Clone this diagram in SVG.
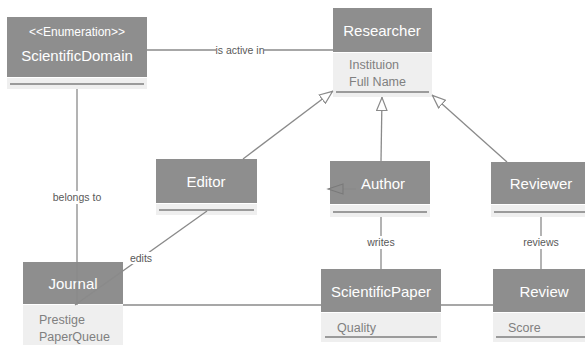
<svg xmlns="http://www.w3.org/2000/svg" width="585" height="345" viewBox="0 0 585 345">
<defs>
<style>
.hd{fill:#8e8e8e;}
.cp{fill:#efefef;}
.sep{stroke:#7f7f7f;stroke-width:1.5;}
.ht{font-family:"Liberation Sans",Arial,sans-serif;font-size:15px;fill:#ffffff;text-anchor:middle;}
.st{font-family:"Liberation Sans",Arial,sans-serif;font-size:12px;fill:#ffffff;text-anchor:middle;}
.at{font-family:"Liberation Sans",Arial,sans-serif;font-size:12.5px;fill:#808080;}
.lb{font-family:"Liberation Sans",Arial,sans-serif;font-size:10.5px;fill:#595959;text-anchor:middle;}
.ln{stroke:#8a8a8a;stroke-width:1.3;fill:none;}
.lbg{fill:#ffffff;}
</style>
<marker id="gen" viewBox="0 0 14 12" refX="14" refY="6" markerWidth="14" markerHeight="12" markerUnits="userSpaceOnUse" orient="auto">
<path d="M0.5,0.8 L13.5,6 L0.5,11.2 Z" fill="#ffffff" stroke="#8a8a8a" stroke-width="1.2"/>
</marker>
</defs>
<rect width="585" height="345" fill="#ffffff"/>

<g id="ScientificDomain">
<rect class="hd" x="7" y="17" width="140" height="60"/>
<rect class="cp" x="7" y="78" width="140" height="11"/>
<line class="sep" x1="10" y1="84" x2="144" y2="84"/>
<text class="st" x="77" y="36">&lt;&lt;Enumeration&gt;&gt;</text>
<text class="ht" x="77" y="61">ScientificDomain</text>
</g>

<g id="Researcher">
<rect class="hd" x="333" y="8" width="99" height="44"/>
<rect class="cp" x="333" y="53" width="99" height="44"/>
<line class="sep" x1="336" y1="92" x2="429" y2="92"/>
<text class="ht" x="382" y="36">Researcher</text>
<text class="at" x="349" y="69">Instituion</text>
<text class="at" x="349" y="86">Full Name</text>
</g>

<g id="Editor">
<rect class="hd" x="156" y="159" width="101" height="44"/>
<rect class="cp" x="156" y="204" width="101" height="11"/>
<line class="sep" x1="159" y1="210" x2="254" y2="210"/>
<text class="ht" x="206" y="187">Editor</text>
</g>

<g id="Author">
<rect class="hd" x="330" y="161" width="100" height="43"/>
<rect class="cp" x="330" y="205" width="100" height="12"/>
<line class="sep" x1="333" y1="212" x2="427" y2="212"/>
<text class="ht" x="383" y="189">Author</text>
</g>

<g id="Reviewer">
<rect class="hd" x="491" y="162" width="100" height="42"/>
<rect class="cp" x="491" y="205" width="100" height="12"/>
<line class="sep" x1="494" y1="212" x2="588" y2="212"/>
<text class="ht" x="541" y="189">Reviewer</text>
</g>

<g id="Journal">
<rect class="hd" x="23" y="262" width="100" height="42"/>
<rect class="cp" x="23" y="305" width="100" height="42"/>
<text class="ht" x="73" y="289">Journal</text>
<text class="at" x="39" y="324">Prestige</text>
<text class="at" x="39" y="341">PaperQueue</text>
</g>

<g id="ScientificPaper">
<rect class="hd" x="321" y="269" width="120" height="43"/>
<rect class="cp" x="321" y="313" width="120" height="29"/>
<line class="sep" x1="325" y1="337" x2="437" y2="337"/>
<text class="ht" x="381" y="297">ScientificPaper</text>
<text class="at" x="337" y="332">Quality</text>
</g>

<g id="Review">
<rect class="hd" x="493" y="269" width="100" height="43"/>
<rect class="cp" x="493" y="313" width="100" height="29"/>
<line class="sep" x1="496" y1="337" x2="590" y2="337"/>
<text class="ht" x="544" y="297">Review</text>
<text class="at" x="508" y="332">Score</text>
</g>

<g id="connectors">
<line class="ln" x1="147" y1="50" x2="333" y2="50"/>
<rect class="lbg" x="216" y="44" width="48" height="12"/>
<text class="lb" x="240" y="54">is active in</text>

<line class="ln" x1="77" y1="89" x2="77" y2="305"/>
<rect class="lbg" x="51" y="191" width="52" height="13"/>
<text class="lb" x="77" y="201">belongs to</text>

<line class="ln" x1="207" y1="211" x2="75" y2="305"/>
<rect class="lbg" x="128" y="252" width="26" height="12"/>
<text class="lb" x="141" y="262">edits</text>

<line class="ln" x1="243" y1="159" x2="333" y2="91" marker-end="url(#gen)"/>
<line class="ln" x1="381" y1="161" x2="382" y2="97" marker-end="url(#gen)"/>
<line class="ln" x1="507" y1="162" x2="432" y2="95" marker-end="url(#gen)"/>

<line class="ln" x1="381" y1="217" x2="381" y2="269"/>
<rect class="lbg" x="365" y="236" width="32" height="13"/>
<text class="lb" x="381" y="246">writes</text>

<line class="ln" x1="541" y1="217" x2="541" y2="269"/>
<rect class="lbg" x="521" y="236" width="40" height="13"/>
<text class="lb" x="541" y="246">reviews</text>

<line class="ln" x1="123" y1="305" x2="321" y2="305"/>
<line class="ln" x1="441" y1="305" x2="493" y2="305"/>

<line class="ln" x1="356" y1="189" x2="343" y2="189"/>
<path d="M328,189 L343,184 L343,194 Z" fill="none" stroke="#7a7a7a" stroke-width="1.1"/>
</g>
</svg>
